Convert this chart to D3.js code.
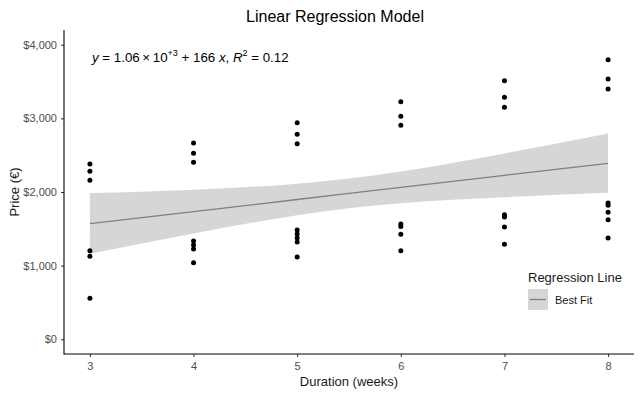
<!DOCTYPE html>
<html><head><meta charset="utf-8">
<script src="https://cdn.jsdelivr.net/npm/d3@7"></script>
<style>body{margin:0;background:#fff;} text{font-family:"Liberation Sans",Arial,sans-serif;}</style>
</head><body><svg id="c" width="640" height="395"></svg>
<script>
// Data
const durations = [3, 4, 5, 6, 7, 8];
const prices = [
  [2380, 2281, 2159, 1203, 1127, 557],
  [2665, 2525, 2403, 1335, 1280, 1226, 1040],
  [2941, 2783, 2656, 1484, 1430, 1375, 1321, 1117],
  [3226, 3028, 2906, 1566, 1532, 1426, 1203],
  [3511, 3286, 3150, 1692, 1661, 1525, 1290],
  [3796, 3534, 3399, 1851, 1819, 1724, 1624, 1375]
];
// Fitted line and confidence band
const fitX     = [3, 4, 5, 5.5, 6, 7, 8];
const fitY     = [1570, 1734, 1898, 1980, 2062, 2226, 2390];
const fitUpper = [1985, 2031, 2113, 2182, 2277, 2523, 2793];
const fitLower = [1160, 1437, 1683, 1778, 1847, 1929, 1989];
const yTicks = [0, 1000, 2000, 3000, 4000];
const xTicks = [3, 4, 5, 6, 7, 8];

const svg = d3.select("#c");
const L = 64, R = 634, T = 30, B = 354;
const x = d3.scaleLinear().domain([2.75, 8.25]).range([L, R]);
const y = d3.scaleLinear().domain([-200, 4200]).range([B, T]);

const band = fitX.map((v, i) => ({x: v, y: fitY[i], u: fitUpper[i], l: fitLower[i]}));
svg.append("path").datum(band)
  .attr("fill", "#d6d6d6")
  .attr("d", d3.area().x(d => x(d.x)).y0(d => y(d.l)).y1(d => y(d.u)).curve(d3.curveMonotoneX));
svg.append("path").datum(band)
  .attr("fill", "none").attr("stroke", "#7f7f7f").attr("stroke-width", 1.3)
  .attr("d", d3.line().x(d => x(d.x)).y(d => y(d.y)));

const pts = [];
durations.forEach((d, i) => prices[i].forEach(p => pts.push({d, p})));
svg.append("g").selectAll("circle").data(pts).join("circle")
  .attr("cx", d => x(d.d)).attr("cy", d => y(d.p)).attr("r", 2.5).attr("fill", "#000");

// Axes
const fmt = v => "$" + d3.format(",")(v);
const ya = svg.append("g").attr("transform", `translate(${L},0)`)
  .call(d3.axisLeft(y).tickValues(yTicks).tickFormat(fmt).tickSize(3).tickPadding(4));
const xa = svg.append("g").attr("transform", `translate(0,${B})`)
  .call(d3.axisBottom(x).tickValues(xTicks).tickFormat(d3.format("d")).tickSize(3).tickPadding(5));
[ya, xa].forEach(a => {
  a.select(".domain").remove();
  a.attr("color", "#333");
  a.selectAll(".tick line").attr("stroke", "#333");
  a.selectAll(".tick text").style("fill", "#4d4d4d").style("font-size", "11px")
    .style("font-family", "Liberation Sans, Arial, sans-serif");
});
svg.append("line").attr("x1", L).attr("x2", L).attr("y1", T).attr("y2", B + 0.5).attr("stroke", "#000").attr("stroke-width", 1.1);
svg.append("line").attr("x1", L).attr("x2", R).attr("y1", B).attr("y2", B).attr("stroke", "#000").attr("stroke-width", 1.1);

// Titles
svg.append("text").attr("x", 335).attr("y", 22).attr("text-anchor", "middle")
  .style("font-size", "16px").attr("fill", "#000").text("Linear Regression Model");
svg.append("text").attr("x", (L + R) / 2).attr("y", 386).attr("text-anchor", "middle")
  .style("font-size", "13px").attr("fill", "#1a1a1a").text("Duration (weeks)");
svg.append("text").attr("transform", "translate(19,192) rotate(-90)").attr("text-anchor", "middle")
  .style("font-size", "13px").attr("fill", "#1a1a1a").text("Price (€)");

// Equation
const eq = svg.append("text").attr("x", 92).attr("y", 62).style("font-size", "13.3px").attr("fill", "#000");
eq.append("tspan").style("font-style", "italic").text("y");
eq.append("tspan").text(" = 1.06\u2009\u00d7\u200910");
eq.append("tspan").attr("dy", -6).style("font-size", "9px").text("+3");
eq.append("tspan").attr("dy", 6).text(" + 166 ");
eq.append("tspan").style("font-style", "italic").text("x");
eq.append("tspan").text(", ");
eq.append("tspan").style("font-style", "italic").text("R");
eq.append("tspan").attr("dy", -6).style("font-size", "9px").text("2");
eq.append("tspan").attr("dy", 6).text(" = 0.12");

// Legend
svg.append("text").attr("x", 528).attr("y", 282).style("font-size", "13px").attr("fill", "#1a1a1a").text("Regression Line");
svg.append("rect").attr("x", 528).attr("y", 289).attr("width", 20).attr("height", 21).attr("fill", "#d6d6d6");
svg.append("line").attr("x1", 530).attr("x2", 546).attr("y1", 299.5).attr("y2", 299.5).attr("stroke", "#7f7f7f").attr("stroke-width", 1.3);
svg.append("text").attr("x", 555).attr("y", 304).style("font-size", "11px").attr("fill", "#1a1a1a").text("Best Fit");
</script></body></html>
